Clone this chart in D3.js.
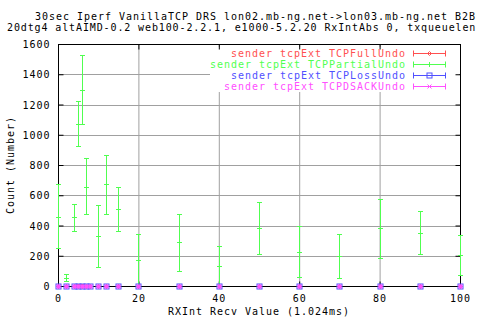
<!DOCTYPE html>
<html><head><meta charset="utf-8">
<script src="https://cdn.jsdelivr.net/npm/d3@7/dist/d3.min.js"></script>
<style>body{margin:0;background:#fff}svg{display:block}text{font-family:"DejaVu Sans Mono",monospace;font-size:10px;letter-spacing:0.98px}</style>
</head><body>
<script>
const titleLines = ["30sec Iperf VanillaTCP DRS lon02.mb-ng.net->lon03.mb-ng.net B2B",
  "20dtg4 altAIMD-0.2 web100-2.2.1, e1000-5.2.20 RxIntAbs 0, txqueuelen"];
const xLabel = "RXInt Recv Value (1.024ms)";
const yLabel = "Count (Number)";
const xTicks = [0,20,40,60,80,100];
const yTicks = [0,200,400,600,800,1000,1200,1400,1600];
const xVals = [0,2,4,5,6,7,8,10,12,15,20,30,40,50,60,70,80,90,100];
const fullMean = [0,0,0,0,0,0,0,0,0,0,0,0,0,0,0,0,0,0,0];
const fullLow  = [0,0,0,0,0,0,0,0,0,0,0,0,0,0,0,0,0,0,0];
const fullHigh = [0,0,0,15,15,0,0,0,0,0,0,0,0,0,0,0,0,0,0];
const partialMean = [458,51,454,1069,1298,657,0,328,672,507,170,289,130,381,223,196,381,348,203];
const partialLow  = [249,35,364,924,1069,476,0,124,476,364,0,97,0,209,57,51,183,209,71];
const partialHigh = [672,77,540,1221,1525,844,0,535,864,653,342,478,262,553,394,342,573,494,335];
const lossMean = [0,0,0,0,0,0,0,0,0,0,0,0,0,0,0,0,0,0,0];
const dsackMean = [0,0,0,0,0,0,0,0,0,0,0,0,0,0,0,0,0,0,0];
const seriesNames = ["sender tcpExt TCPFullUndo","sender tcpExt TCPPartialUndo","sender tcpExt TCPLossUndo","sender tcpExt TCPDSACKUndo"];
const seriesColors = ["#ff5050","#50ff50","#5050ff","#ff50ff"];

const W=480,H=320, L=58,R=460,T=44,B=286;
const svg=d3.select("body").append("svg").attr("width",W).attr("height",H);
const x=d3.scaleLinear().domain([0,100]).range([L,R]);
const y=d3.scaleLinear().domain([0,1600]).range([B,T]);

// grid
svg.append("g").selectAll("line").data(xTicks.slice(1,-1)).join("line")
  .attr("x1",d=>x(d)+0.5).attr("x2",d=>x(d)+0.5).attr("y1",T).attr("y2",B).attr("stroke","#a0a0a0");
svg.append("g").selectAll("line").data(yTicks.slice(1,-1)).join("line")
  .attr("y1",d=>Math.round(y(d))+0.5).attr("y2",d=>Math.round(y(d))+0.5).attr("x1",L).attr("x2",R).attr("stroke","#a0a0a0");
// legend background (grid hidden behind key)
svg.append("rect").attr("x",210).attr("y",47).attr("width",249).attr("height",45).attr("fill","#fff");

// axes with inward ticks
const fmt=d3.format("d");
const ax=svg.append("g").attr("transform",`translate(0,${B+0.5})`).call(d3.axisBottom(x).tickValues(xTicks).tickSize(-5).tickFormat(fmt));
const ax2=svg.append("g").attr("transform",`translate(0,${T+0.5})`).call(d3.axisTop(x).tickValues(xTicks).tickSize(-5).tickFormat(""));
const ay=svg.append("g").attr("transform",`translate(${L+0.5},0)`).call(d3.axisLeft(y).tickValues(yTicks).tickSize(-5).tickPadding(8).tickFormat(fmt));
const ay2=svg.append("g").attr("transform",`translate(${R+0.5},0)`).call(d3.axisRight(y).tickValues(yTicks).tickSize(-5).tickFormat(""));
[ax,ax2,ay,ay2].forEach(g=>{g.select(".domain").remove();g.selectAll("line").attr("stroke","#000");
  g.selectAll("text").attr("fill","#000").style("font-family",'"DejaVu Sans Mono",monospace').style("font-size","10px");});
ax.selectAll("text").attr("dy",0).attr("y",15);
ay.selectAll("text").attr("dy","0.35em");
svg.append("rect").attr("x",L+0.5).attr("y",T+0.5).attr("width",R-L).attr("height",B-T).attr("fill","none").attr("stroke","#000");

// titles
svg.append("text").attr("x",35).attr("y",20).text(titleLines[0]);
svg.append("text").attr("x",7).attr("y",30.5).style("letter-spacing","0.88px").text(titleLines[1]);
svg.append("text").attr("x",259).attr("y",315).attr("text-anchor","middle").text(xLabel);
svg.append("text").attr("transform","translate(14,165) rotate(-90)").attr("text-anchor","middle").text(yLabel);

// series
const zeros = xVals.map(()=>0);
const series=[
  {mean:fullMean,low:fullLow,high:fullHigh},
  {mean:partialMean,low:partialLow,high:partialHigh},
  {mean:lossMean,low:zeros,high:zeros},
  {mean:dsackMean,low:zeros,high:zeros}];
const cap=2.5;
function marker(g,i,cx,cy,c){
  if(i===0){g.append("path").attr("d",`M${cx},${cy-2}L${cx+2},${cy}L${cx},${cy+2}L${cx-2},${cy}Z`).attr("fill","none").attr("stroke",c);}
  else if(i===1){g.append("line").attr("x1",cx-cap).attr("x2",cx+cap).attr("y1",cy).attr("y2",cy).attr("stroke",c);}
  else if(i===2){g.append("rect").attr("x",cx-2.5).attr("y",cy-2.5).attr("width",5).attr("height",5).attr("fill","none").attr("stroke",c);}
  else {g.append("path").attr("d",`M${cx-2},${cy-2}L${cx+2},${cy+2}M${cx+2},${cy-2}L${cx-2},${cy+2}`).attr("stroke",c).attr("stroke-width",1);}
}
series.forEach((s,i)=>{
  const c=seriesColors[i];
  const g=svg.append("g");
  xVals.forEach((xv,j)=>{
    const cx=Math.round(x(xv))+0.5, yl=Math.round(y(s.low[j]))+0.5, yh=Math.round(y(s.high[j]))+0.5, ym=Math.round(y(s.mean[j]))+0.5;
    if(s.high[j]>s.low[j]){
      g.append("line").attr("x1",cx).attr("x2",cx).attr("y1",yl).attr("y2",yh).attr("stroke",c);
      [yl,yh].forEach(yy=>g.append("line").attr("x1",cx-cap).attr("x2",cx+cap).attr("y1",yy).attr("y2",yy).attr("stroke",c));
    }
    if(i===3){
      g.append("rect").attr("x",cx-2).attr("y",ym-2).attr("width",4).attr("height",4).attr("fill",c);
    } else marker(g,i,cx,ym,c);
  });
});

// legend
seriesNames.forEach((n,i)=>{
  const c=seriesColors[i], ly=Math.round(52.5+i*11.3)+0.5;
  svg.append("text").attr("x",406).attr("y",ly+3.5).attr("text-anchor","end").attr("fill",c).text(n);
  const g=svg.append("g");
  g.append("line").attr("x1",413).attr("x2",446).attr("y1",ly).attr("y2",ly).attr("stroke",c);
  [413.5,445.5].forEach(xx=>g.append("line").attr("x1",xx).attr("x2",xx).attr("y1",ly-3).attr("y2",ly+3).attr("stroke",c));
  marker(g,i,429.5,ly,c);
  if(i===1) g.select("line:last-child").attr("x1",429.5).attr("x2",429.5).attr("y1",ly-2.5).attr("y2",ly+2.5);
});
</script>
</body></html>
